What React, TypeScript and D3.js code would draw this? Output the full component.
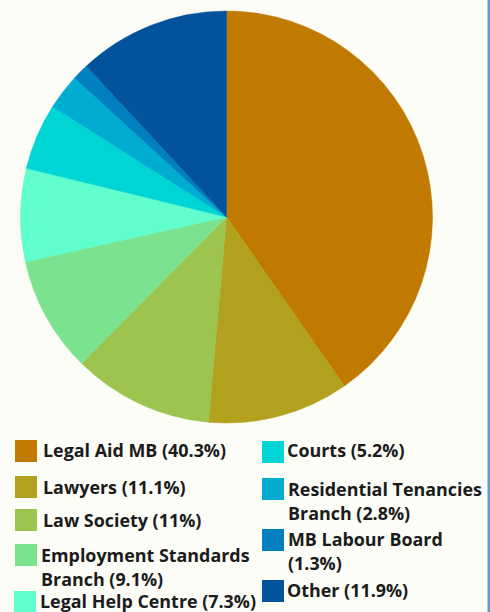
import React from "react";
import * as d3 from "d3";

const categories = [
  "Legal Aid MB",
  "Lawyers",
  "Law Society",
  "Employment Standards Branch",
  "Legal Help Centre",
  "Courts",
  "Residential Tenancies Branch",
  "MB Labour Board",
  "Other",
];
const values = [40.3, 11.1, 11, 9.1, 7.3, 5.2, 2.8, 1.3, 11.9];
const colors = [
  "#c17a00",
  "#b1a11c",
  "#9cc44f",
  "#7be28d",
  "#60fdcd",
  "#00d5d5",
  "#00add1",
  "#0180c1",
  "#02529c",
];
// legend lines (text as drawn, wrapped)
const legendLines: string[][] = [
  ["Legal Aid MB (40.3%)"],
  ["Lawyers (11.1%)"],
  ["Law Society (11%)"],
  ["Employment Standards", "Branch (9.1%)"],
  ["Legal Help Centre (7.3%)"],
  ["Courts (5.2%)"],
  ["Residential Tenancies", "Branch (2.8%)"],
  ["MB Labour Board", "(1.3%)"],
  ["Other (11.9%)"],
];

const W = 490;
const H = 612;
const cx = 226.5;
const cy = 217;
const R = 206;

// legend layout: [squareX, squareY, textX, firstLineCenterY]
const legendPos: [number, number, number, number][] = [
  [15, 440, 43, 451],
  [15, 476, 43, 488],
  [15, 509, 43, 521],
  [15, 544, 41, 556],
  [14, 591, 40, 602],
  [262, 441, 287, 451],
  [262, 478, 288, 490],
  [262, 529, 288, 540],
  [262, 580, 287, 591],
];

export default function App() {
  const pie = d3
    .pie<number>()
    .sort(null)
    .value((d) => d)
    .startAngle(0)
    .endAngle(2 * Math.PI);
  const arcs = pie(values);
  const arc = d3.arc<d3.PieArcDatum<number>>().innerRadius(0).outerRadius(R);

  return (
    <svg
      width={W}
      height={H}
      style={{ position: "absolute", left: 0, top: 0, display: "block" }}
    >
      <rect x={0} y={0} width={W} height={H} fill="#fcfdf7" />
      <rect x={487.5} y={0} width={2.5} height={H} fill="#5b9bd8" />
      <g transform={`translate(${cx},${cy})`}>
        {arcs.map((a, i) => (
          <path key={i} d={arc(a) || ""} fill={colors[i]} stroke={colors[i]} strokeWidth={0.5} />
        ))}
      </g>
      <g
        style={{ fontFamily: "'Open Sans', Roboto, sans-serif", fontWeight: 700 }}
        fontSize={17.9}
        fill="#1b1b1b"
      >
        {categories.map((c, i) => {
          const [sx, sy, tx, ty] = legendPos[i];
          return (
            <g key={c}>
              <rect x={sx} y={sy} width={22} height={22} fill={colors[i]} />
              {legendLines[i].map((ln, j) => (
                <text key={j} x={tx} y={ty + j * 24} dy="0.35em">
                  {ln}
                </text>
              ))}
            </g>
          );
        })}
      </g>
    </svg>
  );
}
